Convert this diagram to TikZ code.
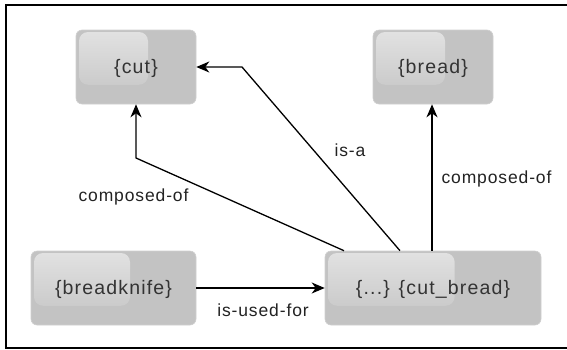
\documentclass[tikz,border=0pt]{standalone}
\usepackage{fontspec}
\newfontfamily\nodefont[LetterSpace=6]{Liberation Sans}
\newfontfamily\labelfont[LetterSpace=5]{Liberation Sans}
\usetikzlibrary{arrows.meta,calc}
\definecolor{boxgray}{HTML}{C3C3C3}
\definecolor{boxedge}{HTML}{D0D0D0}
\definecolor{glosstop}{HTML}{E2E2E2}
\definecolor{textgray}{HTML}{333333}
\definecolor{labelcol}{HTML}{222222}
\tikzset{
  conceptbox/.style={rectangle, rounded corners=6pt, fill=boxgray, draw=boxedge,
    line width=0.6pt, text=textgray, font=\nodefont\fontsize{19.5}{23}\selectfont,
    inner sep=0pt, minimum height=74pt, text height=12pt, text depth=0pt,
    path picture={\path let \p1=(path picture bounding box.north west),
      \p2=(path picture bounding box.south east) in
      [top color=glosstop, bottom color=boxgray, rounded corners=9pt]
      (\x1+3pt,\y1-2pt) rectangle ({\x1+0.6*(\x2-\x1)},{\y1+0.74*(\y2-\y1)});}},
  edgelabel/.style={text=labelcol, font=\labelfont\fontsize{17.5}{21}\selectfont, inner sep=0pt, anchor=base},
  relarrow/.style={line width=1.3pt, -{Stealth[length=13pt,width=11pt,inset=4pt]}},
}
\begin{document}
\begin{tikzpicture}[x=1pt,y=-1pt]
\useasboundingbox (0,0) rectangle (567,349);
\draw[line width=2pt] (567,5) -- (6,5) -- (6,348) -- (567,348);
\node[conceptbox, minimum width=120pt] (cut) at (136,67) {\{cut\}};
\node[conceptbox, minimum width=120pt] (bread) at (433,67) {\{bread\}};
\node[conceptbox, minimum width=165pt] (bk) at (113.5,288) {\{breadknife\}};
\node[conceptbox, minimum width=216pt] (cb) at (433,288) {\{...\} \{cut\_bread\}};
\coordinate (isabend) at (242,67);
\coordinate (compbend) at (136,158);
\draw[relarrow] (bk.east) -- (cb.west);
\draw[relarrow] ([xshift=-1pt]cb.north) -- ([xshift=-1pt]bread.south);
\draw[relarrow] ([xshift=-33pt]cb.north) -- (isabend) -- (cut.east);
\draw[relarrow] ([xshift=-89pt]cb.north) -- (compbend) -- (cut.south);
\node[edgelabel] (l1) at (133.5,201.5) {composed-of};
\node[edgelabel] (l2) at (350,156) {is-a};
\node[edgelabel] (l3) at (496.5,183) {composed-of};
\node[edgelabel] (l4) at (263,316) {is-used-for};
\end{tikzpicture}
\end{document}
